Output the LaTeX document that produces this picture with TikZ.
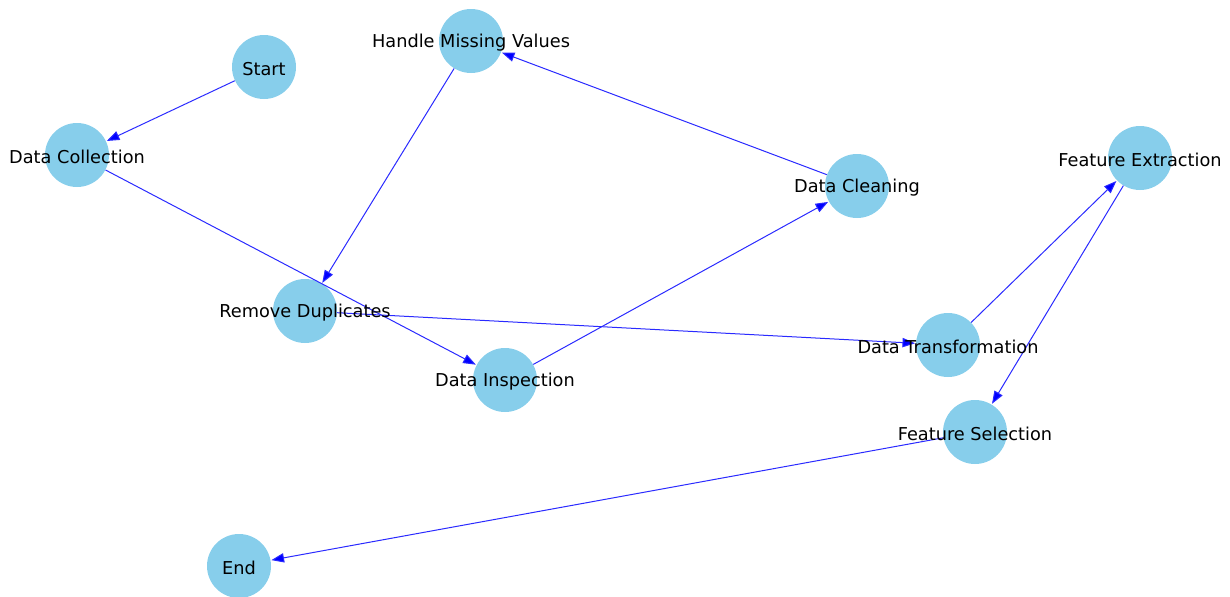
\documentclass[tikz,border=0pt]{standalone}
\usepackage{fontspec}
\setmainfont{DejaVu Sans}
\usetikzlibrary{arrows.meta}
\definecolor{skyblue}{HTML}{87CEEB}
\definecolor{edgeblue}{HTML}{2A2AFF}
\tikzset{
  vert/.style={circle, fill=skyblue, draw=none, minimum size=48pt, inner sep=0pt},
  lab/.style={font=\fontsize{13.3}{15}\selectfont, text=black, inner sep=0pt, yshift=-1.2pt},
  edge/.style={draw=edgeblue, line width=0.75pt, -{Triangle[length=9.5pt,width=7pt,fill=blue]}, shorten >=0.5pt}
}
\begin{document}
\begin{tikzpicture}[x=0.75pt, y=-0.75pt]
\useasboundingbox (0,0) rectangle (1230,596);
% circles
\node[vert] (st) at (264,67) {};
\node[vert] (dc) at (77,155) {};
\node[vert] (hm) at (471,41) {};
\node[vert] (cl) at (857,186) {};
\node[vert] (fe) at (1140,158) {};
\node[vert] (rd) at (305,311) {};
\node[vert] (di) at (505,380) {};
\node[vert] (dt) at (948,345) {};
\node[vert] (fs) at (975,432) {};
\node[vert] (en) at (239,566) {};
% edges
\draw[edge] (st) -- (dc);
\draw[edge] (dc) -- (di);
\draw[edge] (di) -- (cl);
\draw[edge] (cl) -- (hm);
\draw[edge] (hm) -- (rd);
\draw[edge] (rd) -- (dt);
\draw[edge] (dt) -- (fe);
\draw[edge] (fe) -- (fs);
\draw[edge] (fs) -- (en);
% labels
\node[lab] (lst) at (st) {Start};
\node[lab] (ldc) at (dc) {Data Collection};
\node[lab] (lhm) at (hm) {Handle Missing Values};
\node[lab] (lcl) at (cl) {Data Cleaning};
\node[lab] (lfe) at (fe) {Feature Extraction};
\node[lab] (lrd) at (rd) {Remove Duplicates};
\node[lab] (ldi) at (di) {Data Inspection};
\node[lab] (ldt) at (dt) {Data Transformation};
\node[lab] (lfs) at (fs) {Feature Selection};
\node[lab] (len) at (en) {End};
\end{tikzpicture}
\end{document}
